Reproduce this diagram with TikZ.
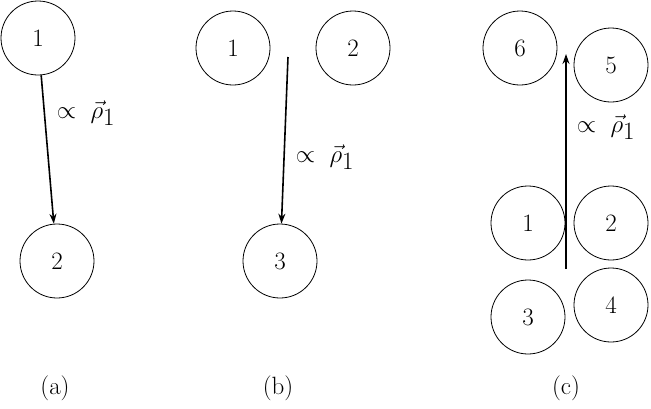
\documentclass[tikz,border=0pt]{standalone}
\usetikzlibrary{arrows.meta}
\begin{document}
\begin{tikzpicture}[x=1pt,y=-1pt,
  ball/.style={circle,draw,line width=0.8pt,minimum size=74pt,inner sep=0pt,font=\fontsize{25}{30}\selectfont},
  lbl/.style={font=\fontsize{25}{30}\selectfont,inner sep=0pt},
  push/.style={line width=1.6pt,-{Stealth[length=10pt,width=7pt]}}]
\useasboundingbox (0,0) rectangle (651,408);
% (a)
\node[ball] (a1) at (38,38) {1};
\node[ball] (a2) at (57,261) {2};
\draw[push] (a1) -- (a2);
\node[lbl] (la) at (86,113) {$\propto\ \vec{\rho}_{\textstyle 1}$};
\node[lbl] (capa) at (55,388) {(a)};
% (b)
\node[ball] (b1) at (233,48) {1};
\node[ball] (b2) at (353,48) {2};
\node[ball] (b3) at (280,261) {3};
\coordinate (bs) at (288,57);
\draw[push] (bs) -- (b3);
\node[lbl] (lb) at (325,157) {$\propto\ \vec{\rho}_{\textstyle 1}$};
\node[lbl] (capb) at (278,388) {(b)};
% (c)
\node[ball] (c6) at (520,48) {6};
\node[ball] (c5) at (611,65) {5};
\node[ball] (c1) at (528,223) {1};
\node[ball] (c2) at (611,223) {2};
\node[ball] (c3) at (528,317) {3};
\node[ball] (c4) at (611,305) {4};
\coordinate (cs) at (566,269);
\coordinate (ce) at (566,54);
\draw[push] (cs) -- (ce);
\node[lbl] (lc) at (606,127) {$\propto\ \vec{\rho}_{\textstyle 1}$};
\node[lbl] (capc) at (566,388) {(c)};
\end{tikzpicture}
\end{document}
